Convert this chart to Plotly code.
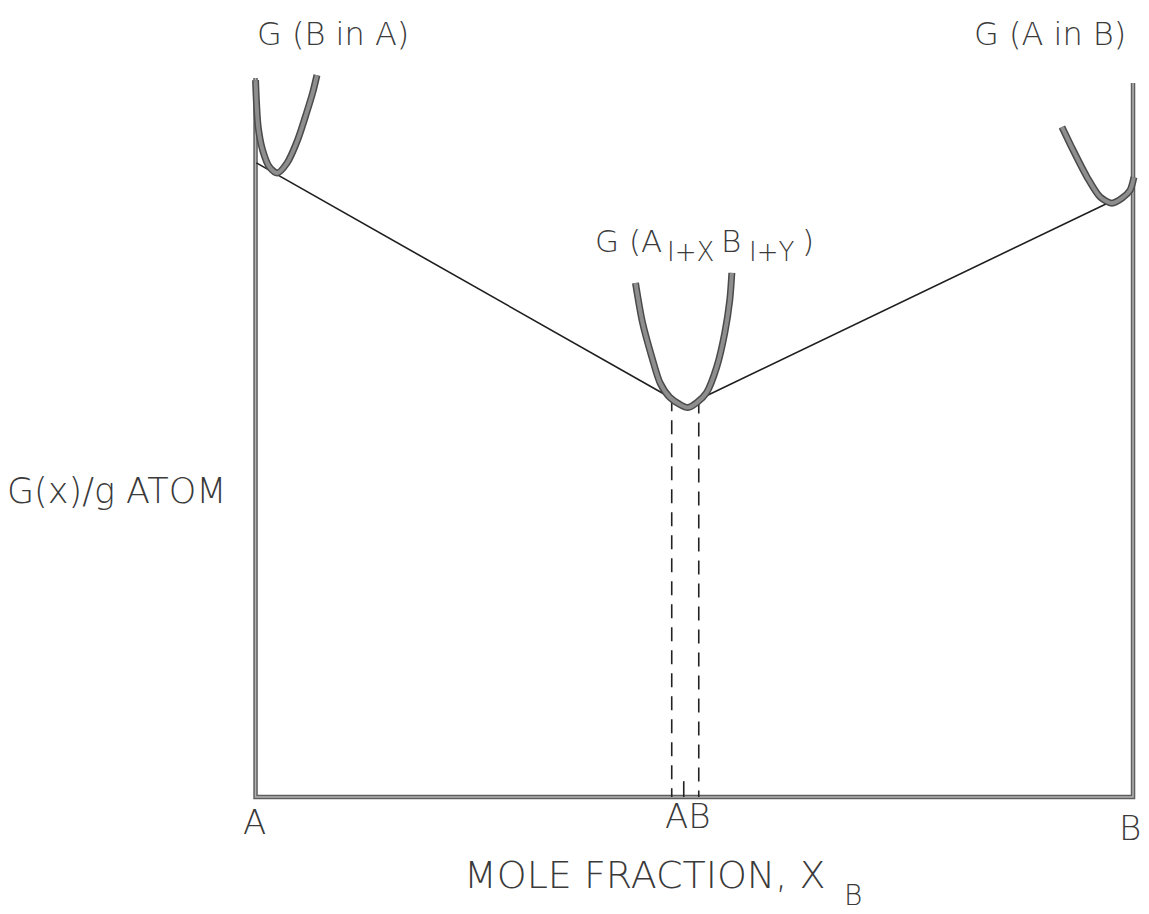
import plotly.graph_objects as go

# ---- data (mole fraction X_B, G(x) per g atom in arbitrary units) ----
frame_x = [0.0, 0.0, 1.0, 1.0]
frame_g = [1.0, 0.0, 0.0, 0.993]

# G(B in A) curve
ga_x = [0.000, 0.001, 0.003, 0.008, 0.016, 0.025, 0.036, 0.048, 0.058, 0.065, 0.070]
ga_g = [0.997, 0.968, 0.932, 0.900, 0.876, 0.868, 0.882, 0.914, 0.951, 0.979, 1.004]

# G(A1+x B1+y) curve
gab_x = [0.433, 0.441, 0.4515, 0.461, 0.472, 0.4835, 0.4926, 0.503, 0.514, 0.5257, 0.5348, 0.5405, 0.5428]
gab_g = [0.715, 0.660, 0.6125, 0.576, 0.556, 0.546, 0.5417, 0.5486, 0.5625, 0.5986, 0.6458, 0.6917, 0.729]

# G(A in B) curve
gb_x = [0.919, 0.9316, 0.9475, 0.9624, 0.976, 0.9875, 0.9966, 1.001]
gb_g = [0.932, 0.900, 0.8625, 0.8347, 0.826, 0.833, 0.844, 0.862]

# common tangent lines
tan_left_x = [0.001, 0.472]
tan_left_g = [0.882, 0.556]
tan_right_x = [0.5051, 1.0]
tan_right_g = [0.5528, 0.843]

# phase limits of AB (dashed) and stoichiometric AB tick
limit_x = [0.4743, 0.5051]
limit_g = [0.556, 0.5528]
ab_x = 0.488
ab_tick_g = 0.022

# text labels
end_labels = ["A", "AB", "B"]
end_label_x = [-0.0017, 0.4929, 0.9966]
end_label_g = [-0.0348, -0.0264, -0.0431]

FONT = "DejaVu Sans"
TXT = "#3a3a3a"

fig = go.Figure()

def thick(x, g, outer, inner, wo, wi, shape="spline"):
    fig.add_trace(go.Scatter(x=x, y=g, mode="lines", line=dict(color=outer, width=wo, shape=shape, smoothing=0.8),
                             hoverinfo="skip", showlegend=False))
    fig.add_trace(go.Scatter(x=x, y=g, mode="lines", line=dict(color=inner, width=wi, shape=shape, smoothing=0.8),
                             hoverinfo="skip", showlegend=False))

# frame
thick(frame_x, frame_g, "#5e5e5e", "#b4b4b4", 4.5, 1.5, shape="linear")

# tangent lines
for tx, tg in [(tan_left_x, tan_left_g), (tan_right_x, tan_right_g)]:
    fig.add_trace(go.Scatter(x=tx, y=tg, mode="lines", line=dict(color="#1e1e1e", width=1.6),
                             hoverinfo="skip", showlegend=False))

# dashed phase-limit lines
for lx, lg in zip(limit_x, limit_g):
    fig.add_trace(go.Scatter(x=[lx, lx], y=[lg, 0.0], mode="lines",
                             line=dict(color="#222222", width=1.6, dash="14px,9px"),
                             hoverinfo="skip", showlegend=False))
# AB tick
fig.add_trace(go.Scatter(x=[ab_x, ab_x], y=[0.0, ab_tick_g], mode="lines",
                         line=dict(color="#222222", width=1.6), hoverinfo="skip", showlegend=False))

# free-energy curves
thick(ga_x, ga_g, "#4a4a4a", "#8e8e8e", 7, 4)
thick(gab_x, gab_g, "#4a4a4a", "#8e8e8e", 7, 4)
thick(gb_x, gb_g, "#4a4a4a", "#8e8e8e", 7, 4)

ann = []
def label(text, x, y, size, xanchor="center"):
    ann.append(dict(text=text, x=x, y=y, xref="x", yref="y", showarrow=False,
                    xanchor=xanchor, yanchor="middle",
                    font=dict(family=FONT, size=size, color=TXT, weight=300)))

label("G (B in A)", 0.0883, 1.0612, 32)
label("G (A in B)", 0.9054, 1.0612, 32)
label("G (A", 0.3846, 0.7733, 31, "left")
label("I+X", 0.4667, 0.758, 26, "left")
label("B", 0.528, 0.7733, 31, "left")
label("I+Y", 0.560, 0.758, 26, "left")
label(")", 0.620, 0.7733, 31, "left")
label("G(x)/g ATOM", -0.158, 0.4256, 35)
for t, x, y in zip(end_labels, end_label_x, end_label_g):
    label(t, x, y, 34)
label("MOLE FRACTION, X", 0.2353, -0.1085, 38, "left")
label("B", 0.668, -0.1363, 28, "left")

# the page body has an 8 px margin; the figure fills the rest of the window
fig.update_layout(
    width=1141, height=906,
    margin=dict(l=0, r=0, t=0, b=0),
    paper_bgcolor="white", plot_bgcolor="white",
    xaxis=dict(range=[-0.2821, 1.0182], visible=False, fixedrange=True),
    yaxis=dict(range=[-0.1627, 1.0974], visible=False, fixedrange=True),
    annotations=ann,
    showlegend=False,
)

fig.write_html("out.html")
